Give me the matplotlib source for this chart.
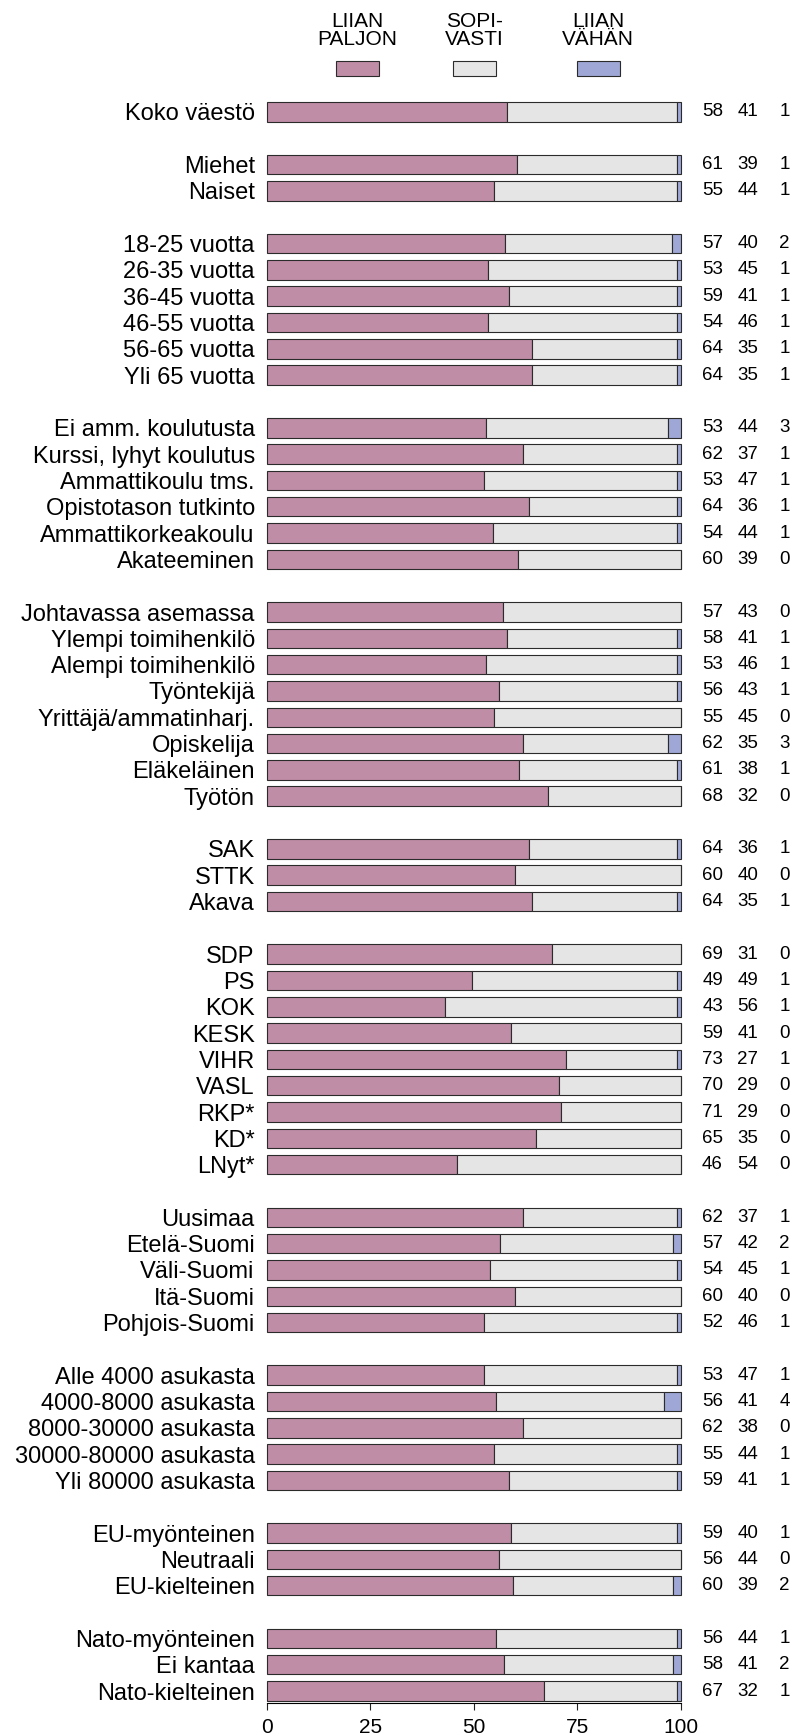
import matplotlib
matplotlib.use("Agg")
import matplotlib.pyplot as plt
import matplotlib.transforms as mtransforms
from matplotlib.patches import Rectangle
import numpy as np

# ---- data -------------------------------------------------------------
categories = [
    "Koko väestö",
    "Miehet", "Naiset",
    "18-25 vuotta", "26-35 vuotta", "36-45 vuotta", "46-55 vuotta", "56-65 vuotta", "Yli 65 vuotta",
    "Ei amm. koulutusta", "Kurssi, lyhyt koulutus", "Ammattikoulu tms.",
    "Opistotason tutkinto", "Ammattikorkeakoulu", "Akateeminen",
    "Johtavassa asemassa", "Ylempi toimihenkilö", "Alempi toimihenkilö", "Työntekijä",
    "Yrittäjä/ammatinharj.", "Opiskelija", "Eläkeläinen", "Työtön",
    "SAK", "STTK", "Akava",
    "SDP", "PS", "KOK", "KESK", "VIHR", "VASL", "RKP*", "KD*", "LNyt*",
    "Uusimaa", "Etelä-Suomi", "Väli-Suomi", "Itä-Suomi", "Pohjois-Suomi",
    "Alle 4000 asukasta", "4000-8000 asukasta", "8000-30000 asukasta",
    "30000-80000 asukasta", "Yli 80000 asukasta",
    "EU-myönteinen", "Neutraali", "EU-kielteinen",
    "Nato-myönteinen", "Ei kantaa", "Nato-kielteinen",
]
group_sizes = [1, 2, 6, 6, 8, 3, 9, 5, 5, 3, 3]

liian_paljon = [58, 61, 55, 57, 53, 59, 54, 64, 64, 53, 62, 53, 64, 54, 60,
                57, 58, 53, 56, 55, 62, 61, 68, 64, 60, 64,
                69, 49, 43, 59, 73, 70, 71, 65, 46,
                62, 57, 54, 60, 52, 53, 56, 62, 55, 59, 59, 56, 60, 56, 58, 67]
sopivasti = [41, 39, 44, 40, 45, 41, 46, 35, 35, 44, 37, 47, 36, 44, 39,
             43, 41, 46, 43, 45, 35, 38, 32, 36, 40, 35,
             31, 49, 56, 41, 27, 29, 29, 35, 54,
             37, 42, 45, 40, 46, 47, 41, 38, 44, 41, 40, 44, 39, 44, 41, 32]
liian_vahan = [1, 1, 1, 2, 1, 1, 1, 1, 1, 3, 1, 1, 1, 1, 0,
               0, 1, 1, 1, 0, 3, 1, 0, 1, 0, 1,
               0, 1, 1, 0, 1, 0, 0, 0, 0,
               1, 2, 1, 0, 1, 1, 4, 0, 1, 1, 1, 0, 2, 1, 2, 1]

legend_labels = ["LIIAN\nPALJON", "SOPI-\nVASTI", "LIIAN\nVÄHÄN"]
colors = ["#C08DA7", "#E5E5E5", "#9EA7D5"]
edge = "#2b2b2b"

# ---- layout -----------------------------------------------------------
W, H = 795, 1735
fig = plt.figure(figsize=(W / 100, H / 100), dpi=100)
plt.rcParams["font.family"] = ["Liberation Sans", "DejaVu Sans"]
narrow = ["Liberation Sans Narrow", "Liberation Sans", "DejaVu Sans"]

# row positions: one empty row between groups
positions = []
pos = 0
for g in group_sizes:
    positions.extend(range(pos, pos + g))
    pos += g + 1
positions = np.array(positions)

ax_left, ax_right = 266.7 / W, 680.7 / W
ax_bottom = 1 - 1703 / H
ax_top = 1 - (112 - 0.6 * 26.32) / H
ax = fig.add_axes([ax_left, ax_bottom, ax_right - ax_left, ax_top - ax_bottom])

p = np.array(liian_paljon, float)
s = np.array(sopivasti, float)
v = np.array(liian_vahan, float)
tot = p + s + v
p, s, v = p / tot * 100, s / tot * 100, v / tot * 100

bh = 0.74
kw = dict(height=bh, edgecolor=edge, linewidth=0.8, clip_on=False)
ax.barh(positions, p, left=0, color=colors[0], **kw)
ax.barh(positions, s, left=p, color=colors[1], **kw)
ax.barh(positions, v, left=p + s, color=colors[2], **kw)

ax.set_xlim(0, 100)
ax.set_ylim(60 + 12 / 26.32, -0.6)

ax.set_yticks(positions)
ax.set_yticklabels(categories, fontsize=17)
ax.tick_params(axis="y", length=0, pad=8.6)

ax.set_xticks([0, 25, 50, 75, 100])
ax.set_xticklabels(["0", "25", "50", "75", "100"], fontsize=15, family=narrow)
ax.tick_params(axis="x", length=5, width=0.8, pad=6, color="#222222")

for side in ["top", "right", "left"]:
    ax.spines[side].set_visible(False)
ax.spines["bottom"].set_bounds(0, 100)
ax.spines["bottom"].set_linewidth(0.8)
ax.patch.set_visible(False)

# numbers on the right
trans = mtransforms.blended_transform_factory(fig.transFigure, ax.transData)
num_x = [723 / W, 758 / W, 790 / W]
for i, y in enumerate(positions):
    for x, val in zip(num_x, [liian_paljon[i], sopivasti[i], liian_vahan[i]]):
        ax.text(x, y, str(val), transform=trans, ha="right", va="center",
                fontsize=13.5, clip_on=False)

# legend at top
leg_x = [357, 474, 598]
for x, lab, c in zip(leg_x, legend_labels, colors):
    fig.text(x / W, 1 - 30.5 / H, lab, ha="center", va="center",
             fontsize=15, family=narrow, linespacing=0.95)
    fig.patches.append(Rectangle(((x - 21.5) / W, 1 - 76 / H), 43 / W, 15 / H,
                                 transform=fig.transFigure, facecolor=c,
                                 edgecolor=edge, linewidth=0.8))

fig.savefig("out.png", dpi=100)
